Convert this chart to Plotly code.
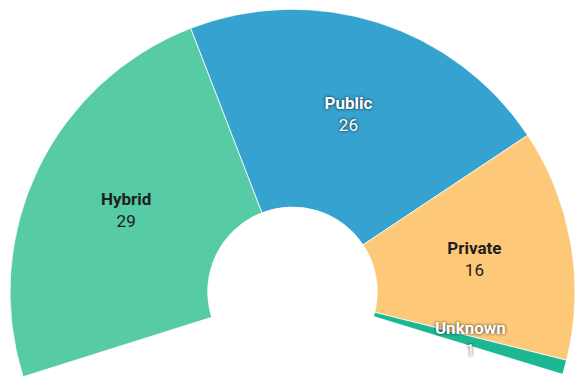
import plotly.graph_objects as go

# ---- data ----
categories = ["Hybrid", "Public", "Private", "Unknown"]
values = [29, 26, 16, 1]
colors = ["#56CBA5", "#35A2CF", "#FDC878", "#1DB794"]
label_light = [False, True, False, True]   # white text with shadow

# ---- geometry of the arc (degrees, counter-clockwise from east) ----
START_ANGLE = 197.5
END_ANGLE = -17.0
total = sum(values)
deg_per_unit = (START_ANGLE - END_ANGLE) / total

thetas, widths = [], []
cur = START_ANGLE
for v in values:
    w = v * deg_per_unit
    thetas.append(cur - w / 2)
    widths.append(w)
    cur -= w

fig = go.Figure()
fig.add_trace(go.Barpolar(
    r=[1] * len(values),
    theta=thetas,
    width=widths,
    base=0,
    marker=dict(color=colors, line=dict(color="rgba(255,255,255,0.8)", width=1)),
    hoverinfo="skip",
    showlegend=False,
))

def label_trace(mask, color, shadow):
    idx = [i for i, m in enumerate(label_light) if m == mask]
    return go.Scatterpolar(
        r=[0.505] * len(idx),
        theta=[thetas[i] for i in idx],
        mode="text",
        text=[f"<b>{categories[i]}</b><br>{values[i]}" for i in idx],
        textposition="middle center",
        textfont=dict(family="Roboto", size=17, color=color, shadow=shadow),
        hoverinfo="skip",
        showlegend=False,
    )

fig.add_trace(label_trace(False, "#1e1e1e", "none"))
fig.add_trace(label_trace(True, "#ffffff", "0px 0px 3px rgba(0,0,0,0.85)"))

fig.update_layout(
    width=575, height=378,
    margin=dict(l=10, r=0, t=8, b=0),
    paper_bgcolor="white",
    plot_bgcolor="white",
    polar=dict(
        sector=[END_ANGLE, START_ANGLE],
        hole=0.3,
        bgcolor="rgba(0,0,0,0)",
        radialaxis=dict(visible=False, range=[0, 1], showgrid=False),
        angularaxis=dict(visible=False, showgrid=False),
    ),
    showlegend=False,
)

fig.write_html("out.html")
